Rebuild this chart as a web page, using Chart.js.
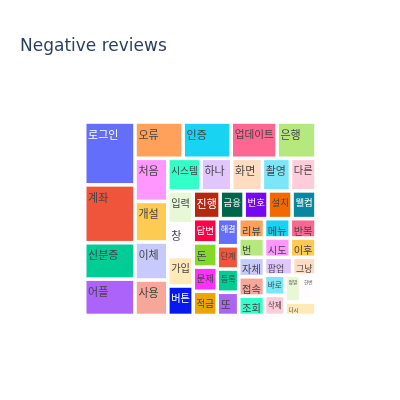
<!DOCTYPE html>
<html>
<head>
<meta charset="utf-8">
<script src="https://cdn.jsdelivr.net/npm/chart.js@4.4.1/dist/chart.umd.min.js"></script>
<style>
  html, body { margin: 0; padding: 0; background: #ffffff; }
  #wrap { width: 400px; height: 400px; position: relative; }
</style>
</head>
<body>
<div id="wrap"><canvas id="c" width="400" height="400"></canvas></div>
<script>
// ---- data ----
const chartTitle = "Negative reviews";
const words = ["로그인","계좌","신분증","어플","오류","인증","업데이트","은행","처음","개설",
               "이체","사용","시스템","하나","화면","촬영","다른","입력","창","가입",
               "버튼","진행","금융","번호","설치","웰컴","답변","돈","문제","적금",
               "해결","단계","등록","또","리뷰","메뉴","반복","번","시도","이후",
               "자체","접속","조회","팝업","그냥","바로","삭제","정말","한번","다시"];
const counts = [38,35,22,22,21,21,20,17,17,16,
                15,14,13,12,12,11,10,10,10,9,
                9,9,8,8,8,8,7,7,7,7,
                7,6,6,6,6,6,6,6,6,6,
                6,6,6,6,5,5,5,5,5,5];

// ---- styles ----
const palette = ["#636efa","#EF553B","#00cc96","#ab63fa","#FFA15A","#19d3f3","#FF6692","#B6E880","#FF97FF","#FECB52",
                 "#c6cafd","#f7a799","#33ffc9","#e0c6fd","#ffdbc0","#7ae6f8","#ffccdb","#e8f8d6","#fffdff","#ffe9b7",
                 "#0819ef","#b5270f","#00664b","#7608ef","#f36900","#08889e","#ff0049","#84d82a","#ff31ff","#e9a501"];
const labelFont = "'Noto Sans CJK KR', 'Open Sans', sans-serif";
const baseSize = 11;
const gap = 1.8;

function brightness(hex) {
  const r = parseInt(hex.slice(1,3),16), g = parseInt(hex.slice(3,5),16), b = parseInt(hex.slice(5,7),16);
  return (r*299 + g*587 + b*114) / 1000;
}

// d3-hierarchy squarify (ratio 1)
function squarifyLayout(nodes, x0, y0, x1, y1, ratio) {
  let value = nodes.reduce((s, n) => s + n.value, 0);
  let i0 = 0, i1 = 0;
  const n = nodes.length;
  while (i0 < n) {
    const dx = x1 - x0, dy = y1 - y0;
    let sumValue;
    do { sumValue = nodes[i1++].value; } while (!sumValue && i1 < n);
    let minValue = sumValue, maxValue = sumValue;
    const alpha = Math.max(dy / dx, dx / dy) / (value * ratio);
    let beta = sumValue * sumValue * alpha;
    let minRatio = Math.max(maxValue / beta, beta / minValue);
    for (; i1 < n; ++i1) {
      const nv = nodes[i1].value;
      sumValue += nv;
      if (nv < minValue) minValue = nv;
      if (nv > maxValue) maxValue = nv;
      beta = sumValue * sumValue * alpha;
      const newRatio = Math.max(maxValue / beta, beta / minValue);
      if (newRatio > minRatio) { sumValue -= nv; break; }
      minRatio = newRatio;
    }
    const row = nodes.slice(i0, i1);
    if (dx < dy) {
      const ny = dy ? y0 + dy * sumValue / value : y1;
      let x = x0; const k = (x1 - x0) / sumValue;
      row.forEach(nd => { nd.x0 = x; nd.x1 = (x += nd.value * k); nd.y0 = y0; nd.y1 = ny; });
      y0 = ny;
    } else {
      const nx = dx ? x0 + dx * sumValue / value : x1;
      let y = y0; const k = (y1 - y0) / sumValue;
      row.forEach(nd => { nd.y0 = y; nd.y1 = (y += nd.value * k); nd.x0 = x0; nd.x1 = nx; });
      x0 = nx;
    }
    value -= sumValue;
    i0 = i1;
  }
}

const treemapPlugin = {
  id: 'treemapCells',
  afterDatasetsDraw(chart) {
    const ctx = chart.ctx;
    const xs = chart.scales.x, ys = chart.scales.y;
    const W = chart.chartArea.right - chart.chartArea.left;
    const H = chart.chartArea.bottom - chart.chartArea.top;
    const nodes = words.map((w, i) => ({ label: w, value: counts[i], idx: i }));
    nodes.sort((a, b) => b.value - a.value);
    squarifyLayout(nodes, 0, 0, W, H, 1);
    ctx.save();
    nodes.forEach((nd, k) => {
      const color = palette[k % palette.length];
      const left = xs.getPixelForValue(nd.x0 / W) + gap;
      const right = xs.getPixelForValue(nd.x1 / W) - gap;
      const top = ys.getPixelForValue(nd.y0 / H) + gap;
      const bottom = ys.getPixelForValue(nd.y1 / H) - gap;
      const w = right - left, h = bottom - top;
      ctx.fillStyle = color;
      ctx.fillRect(left, top, w, h);
      // label
      ctx.font = baseSize + "px " + labelFont;
      const tw = ctx.measureText(nd.label).width;
      const scale = Math.min(1, (w - 3) / tw, (h - 3) / (baseSize * 1.25));
      const fs = baseSize * scale;
      ctx.font = fs + "px " + labelFont;
      ctx.fillStyle = brightness(color) < 128 ? "#ffffff" : "#444444";
      ctx.textAlign = "left";
      ctx.textBaseline = "alphabetic";
      ctx.fillText(nd.label, left + 1.6, top + 4.5 * Math.min(1, scale * 1.2) + 0.95 * fs);
    });
    ctx.restore();
  }
};

const titlePlugin = {
  id: 'plotTitle',
  afterDraw(chart) {
    const ctx = chart.ctx;
    ctx.save();
    ctx.font = "17px 'DejaVu Sans', sans-serif";
    ctx.fillStyle = "#2a3f5f";
    ctx.textAlign = "left";
    ctx.textBaseline = "alphabetic";
    ctx.fillText(chartTitle, 20, 50.5);
    ctx.restore();
  }
};

new Chart(document.getElementById('c'), {
  type: 'scatter',
  data: { datasets: [{ data: [] }] },
  options: {
    responsive: false,
    animation: false,
    events: [],
    layout: { padding: { left: 84.7, right: 84, top: 122, bottom: 84.5 } },
    scales: {
      x: { type: 'linear', min: 0, max: 1, display: false },
      y: { type: 'linear', min: 0, max: 1, reverse: true, display: false }
    },
    plugins: { legend: { display: false }, tooltip: { enabled: false }, title: { display: false } }
  },
  plugins: [treemapPlugin, titlePlugin]
});
</script>
</body>
</html>
